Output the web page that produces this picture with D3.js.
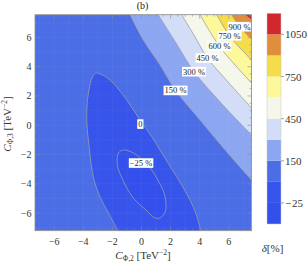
<!DOCTYPE html>
<html><head><meta charset="utf-8">
<script src="https://cdn.jsdelivr.net/npm/d3@7"></script>
<style>html,body{margin:0;padding:0;background:#fff;} svg{display:block;font-family:"Liberation Serif","Times New Roman",serif;}</style>
</head><body><svg id="c" width="308" height="264"></svg>
<script>
// ---------- data ----------
const xTicks = [-6, -4, -2, 0, 2, 4, 6];
const yTicks = [-6, -4, -2, 0, 2, 4, 6];
const levels = [-25, 0, 150, 300, 450, 600, 750, 900, 1050];
const legendTickLevels = [1050, 750, 450, 150, -25];
const bandColors = ['#3350ec', '#3755ea', '#4b6ee6', '#8ca6f1', '#d3ddf8', '#f5f7eb', '#fdf89a', '#f5dc4b', '#e08e3b', '#d2272c'];

// contour lines, points [C_phi2, C_phi3]
const contourM25 = [[-1.27,-1.69],[-0.79,-1.79],[-0.24,-2.10],[0.31,-2.58],[0.79,-3.19],[1.20,-3.88],[1.55,-4.62],[1.68,-5.31],[1.62,-5.92],[1.27,-6.33],[0.86,-6.30],[0.38,-5.85],[-0.45,-5.10],[-0.93,-4.42],[-1.34,-3.60],[-1.62,-2.92],[-1.68,-2.37],[-1.58,-1.89]];
const contour0 = [[-1.62,-7.2],[-2.23,-6.06],[-2.85,-4.90],[-3.26,-3.74],[-3.47,-2.58],[-3.61,-1.35],[-3.75,0.02],[-3.75,1.25],[-3.61,2.41],[-3.40,3.23],[-3.16,3.55],[-2.85,3.50],[-2.16,3.09],[-1.02,1.73],[-0.10,0.36],[0.72,-0.80],[1.27,-1.69],[1.82,-2.58],[2.42,-3.51],[2.92,-4.35],[3.33,-5.10],[3.75,-6.06],[4.07,-7.2]];
const contour150 = [[-0.79,7.55],[0.12,5.82],[1.27,4.12],[2.34,2.38],[4.02,0.36],[5.74,-1.69],[7.56,-3.74]];
const contour300 = [[1.15,7.55],[2.37,5.62],[3.61,3.66],[5.53,1.45],[7.56,-0.66]];
const contour450 = [[2.76,7.55],[3.64,6.10],[4.54,4.58],[6.01,2.89],[7.56,1.18]];
const contour600 = [[4.02,7.55],[5.36,5.38],[6.49,4.05],[7.56,2.89]];
const contour750 = [[5.17,7.55],[6.05,6.11],[7.56,4.46]];
const contour900 = [[6.20,7.55],[6.74,6.73],[7.56,5.89]];
const contour1050 = [[7.11,7.55],[7.56,7.19]];
const upperContours = [contour150, contour300, contour450, contour600, contour750, contour900, contour1050];

const labelTexts = ['900 %', '750 %', '600 %', '450 %', '300 %', '150 %', '0', '\u221225 %'];
const labelAt = [[6.74,6.73],[6.05,6.11],[5.36,5.38],[4.54,4.58],[3.61,3.66],[2.34,2.38],[-0.08,0.08],[-0.03,-2.58]];

// ---------- drawing ----------
const svg = d3.select('#c');
const xMin = -7.32, xMax = 7.56, yMin = -7.2, yMax = 7.55;
const x = d3.scaleLinear().domain([xMin, xMax]).range([35, 251.5]);
const y = d3.scaleLinear().domain([yMin, yMax]).range([230.7, 14.7]);

svg.append('defs').append('clipPath').attr('id', 'pc')
  .append('rect').attr('x', x(xMin)).attr('y', y(yMax))
  .attr('width', x(xMax) - x(xMin)).attr('height', y(yMin) - y(yMax));

const g = svg.append('g').attr('clip-path', 'url(#pc)');
const line = d3.line().x(d => x(d[0])).y(d => y(d[1])).curve(d3.curveCatmullRom.alpha(0.5));
const lineClosed = d3.line().x(d => x(d[0])).y(d => y(d[1])).curve(d3.curveCatmullRomClosed.alpha(0.5));

// background band (0..150)
g.append('rect').attr('x', x(xMin)).attr('y', y(yMax))
  .attr('width', x(xMax) - x(xMin)).attr('height', y(yMin) - y(yMax))
  .attr('fill', bandColors[2]);
// delta < 0
g.append('path').attr('d', line(contour0) + 'Z').attr('fill', bandColors[1]);
// delta < -25
g.append('path').attr('d', lineClosed(contourM25)).attr('fill', bandColors[0]);
// upper levels
upperContours.forEach((c, i) => {
  g.append('path').attr('d', line(c) + `L${x(xMax)},${y(yMax)}Z`).attr('fill', bandColors[i + 3]);
});

// faint seams
const seam = d3.range(-7, 7.6, 1);
seam.forEach(v => {
  g.append('line').attr('x1', x(v)).attr('x2', x(v)).attr('y1', y(yMin)).attr('y2', y(yMax))
    .attr('stroke', '#fff').attr('stroke-opacity', 0.05).attr('stroke-width', 0.8);
  g.append('line').attr('y1', y(v)).attr('y2', y(v)).attr('x1', x(xMin)).attr('x2', x(xMax))
    .attr('stroke', '#fff').attr('stroke-opacity', 0.05).attr('stroke-width', 0.8);
});

// contour strokes
const strokeCol = '#9a9ca8';
g.append('path').attr('d', line(contour0)).attr('fill', 'none').attr('stroke', strokeCol).attr('stroke-width', 0.8);
g.append('path').attr('d', lineClosed(contourM25)).attr('fill', 'none').attr('stroke', strokeCol).attr('stroke-width', 0.8);
upperContours.forEach(c => {
  g.append('path').attr('d', line(c)).attr('fill', 'none').attr('stroke', strokeCol).attr('stroke-width', 0.8);
});

// contour labels
labelTexts.forEach((t, i) => {
  const lg = svg.append('g');
  const tx = lg.append('text').attr('x', x(labelAt[i][0])).attr('y', y(labelAt[i][1]))
    .attr('text-anchor', 'middle').attr('dominant-baseline', 'central')
    .attr('font-size', 8.5).attr('fill', '#222').text(t);
  const w = tx.node().getComputedTextLength();
  lg.insert('rect', 'text').attr('x', x(labelAt[i][0]) - w / 2 - 1).attr('y', y(labelAt[i][1]) - 4.8)
    .attr('width', w + 2).attr('height', 9.6).attr('fill', '#fff');
});

// frame + ticks
const frameCol = '#8c8c8c';
svg.append('rect').attr('x', x(xMin)).attr('y', y(yMax))
  .attr('width', x(xMax) - x(xMin)).attr('height', y(yMin) - y(yMax))
  .attr('fill', 'none').attr('stroke', frameCol).attr('stroke-width', 0.8);
const minor = d3.range(-7, 7.6, 0.5).filter(v => !xTicks.includes(v));
const tk = svg.append('g').attr('stroke', frameCol).attr('stroke-width', 0.6);
[[xTicks, 4], [minor, 2]].forEach(([arr, len]) => {
  arr.forEach(v => {
    if (v >= xMin && v <= xMax) {
      tk.append('line').attr('x1', x(v)).attr('x2', x(v)).attr('y1', y(yMin)).attr('y2', y(yMin) - len);
      tk.append('line').attr('x1', x(v)).attr('x2', x(v)).attr('y1', y(yMax)).attr('y2', y(yMax) + len);
    }
    if (v >= yMin && v <= yMax) {
      tk.append('line').attr('y1', y(v)).attr('y2', y(v)).attr('x1', x(xMin)).attr('x2', x(xMin) + len);
      tk.append('line').attr('y1', y(v)).attr('y2', y(v)).attr('x1', x(xMax)).attr('x2', x(xMax) - len);
    }
  });
});
const fmt = v => (v < 0 ? '\u2212' + Math.abs(v) : String(v));
svg.append('g').selectAll('text').data(xTicks).join('text')
  .attr('x', d => x(d)).attr('y', 245).attr('text-anchor', 'middle')
  .attr('font-size', 10).attr('fill', '#333').text(fmt);
svg.append('g').selectAll('text').data(yTicks).join('text')
  .attr('x', 31.5).attr('y', d => y(d)).attr('text-anchor', 'end').attr('dominant-baseline', 'central')
  .attr('font-size', 10).attr('fill', '#333').text(fmt);

// axis titles
function axisTitle(sel, sub) {
  sel.append('tspan').attr('font-style', 'italic').text('C');
  sel.append('tspan').attr('font-size', 7.5).attr('dy', 2.5).text('\u03A6,' + sub);
  sel.append('tspan').attr('dy', -2.5).text(' [TeV');
  sel.append('tspan').attr('font-size', 7.5).attr('dy', -4).text('\u22122');
  sel.append('tspan').attr('dy', 4).text(']');
}
axisTitle(svg.append('text').attr('x', 143).attr('y', 258.5).attr('text-anchor', 'middle')
  .attr('font-size', 11).attr('fill', '#333'), '2');
axisTitle(svg.append('text').attr('transform', 'translate(10.5,124) rotate(-90)').attr('text-anchor', 'middle')
  .attr('font-size', 11).attr('fill', '#333'), '3');

// title
svg.append('text').attr('x', 142.5).attr('y', 8.5).attr('text-anchor', 'middle')
  .attr('font-size', 10).attr('fill', '#222').text('(b)');

// colorbar
const cb = d3.scaleLinear().domain([0, bandColors.length]).range([224, 13.3]);
const cbg = svg.append('g');
bandColors.forEach((c, i) => {
  cbg.append('rect').attr('x', 267).attr('width', 14).attr('y', cb(i + 1)).attr('height', cb(i) - cb(i + 1)).attr('fill', c);
});
cbg.append('rect').attr('x', 267).attr('width', 14).attr('y', cb(bandColors.length)).attr('height', cb(0) - cb(bandColors.length))
  .attr('fill', 'none').attr('stroke', '#c8c8c8').attr('stroke-width', 0.5);
legendTickLevels.forEach(v => {
  const k = levels.indexOf(v);
  const yy = cb(k + 1);
  cbg.append('line').attr('x1', 281).attr('x2', 284).attr('y1', yy).attr('y2', yy).attr('stroke', '#666').attr('stroke-width', 0.6);
  cbg.append('text').attr('x', 285).attr('y', yy).attr('dominant-baseline', 'central')
    .attr('font-size', 11).attr('fill', '#333').text(v < 0 ? '\u2212\u200A' + Math.abs(v) : v);
});
const dl = svg.append('text').attr('x', 272.5).attr('y', 252).attr('text-anchor', 'middle').attr('font-size', 11).attr('fill', '#333');
dl.append('tspan').attr('font-style', 'italic').text('\u03B4');
dl.append('tspan').text('[%]');
</script></body></html>
